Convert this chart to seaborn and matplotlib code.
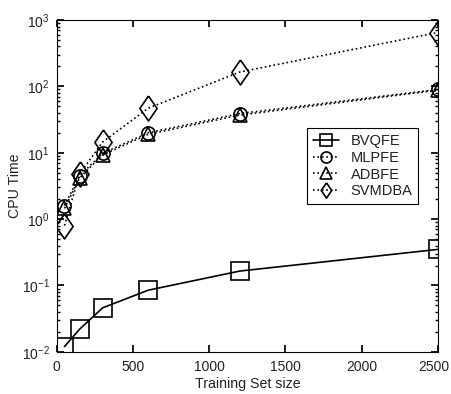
import matplotlib
matplotlib.use("Agg")
import matplotlib.pyplot as plt
from matplotlib.lines import Line2D
from matplotlib.transforms import ScaledTranslation
import seaborn as sns
import numpy as np
import pandas as pd

sizes = [50, 150, 300, 600, 1200, 2500]
bvqfe = [0.012, 0.022, 0.046, 0.085, 0.165, 0.35]
mlpfe = [1.6, 4.5, 9.8, 20, 39, 90]
adbfe = [1.45, 4.2, 9.3, 19, 37, 88]
svmdba = [0.8, 4.8, 14.5, 47, 165, 650]
series_names = ["BVQFE", "MLPFE", "ADBFE", "SVMDBA"]

sns.set_theme(style="ticks")
plt.rcParams['font.family'] = ['Liberation Sans', 'DejaVu Sans']
plt.rcParams['mathtext.fontset'] = 'custom'
plt.rcParams['mathtext.rm'] = 'Liberation Sans'
plt.rcParams['mathtext.it'] = 'Liberation Sans'

fig = plt.figure(figsize=(4.51, 3.94), dpi=100)
ax = fig.add_axes([0.126, 0.107, 0.845, 0.842])

diamond = [(0, 1.45), (1, 0), (0, -1.45), (-1, 0), (0, 1.45)]
styles = {
    "BVQFE": dict(marker="s", linestyle="-", ms=13, lms=8),
    "MLPFE": dict(marker="o", linestyle=":", ms=9.5, lms=8),
    "ADBFE": dict(marker="^", linestyle=":", ms=10, lms=8.5),
    "SVMDBA": dict(marker=diamond, linestyle=":", ms=18, lms=11),
}
vals = {"BVQFE": bvqfe, "MLPFE": mlpfe, "ADBFE": adbfe, "SVMDBA": svmdba}
for name in series_names:
    df = pd.DataFrame({"x": sizes, "y": vals[name]})
    st = styles[name]
    sns.lineplot(data=df, x="x", y="y", ax=ax, color="black", legend=False,
                 marker=st["marker"], linestyle=st["linestyle"],
                 markersize=st["ms"], markerfacecolor="none",
                 markeredgecolor="black", markeredgewidth=1.2, linewidth=1.2)

ax.set_yscale("log")
ax.set_xlim(0, 2500)
ax.set_ylim(1e-2, 1e3)
ax.set_xticks([0, 500, 1000, 1500, 2000, 2500])
ax.set_xlabel("Training Set size", fontsize=10.2, labelpad=2, color="#222222")
ax.set_ylabel("CPU Time", fontsize=10.2, labelpad=0, color="#222222")
ax.tick_params(axis="both", which="both", direction="in", top=True, right=True,
               labelsize=10, colors="black", labelcolor="#222222")
ax.tick_params(which="major", length=5, pad=6)
ax.tick_params(axis="y", which="major", pad=5)
ax.tick_params(which="minor", length=2.5)
for s in ax.spines.values():
    s.set_color("black")
    s.set_linewidth(0.8)

last = ax.get_xticklabels()[-1]
last.set_transform(last.get_transform() + ScaledTranslation(-3 / 72, 0, fig.dpi_scale_trans))

handles = [Line2D([], [], color="black", marker=styles[n]["marker"],
                  linestyle=styles[n]["linestyle"], markersize=styles[n]["lms"],
                  markerfacecolor="none", markeredgecolor="black",
                  markeredgewidth=1.2, linewidth=1.2) for n in series_names]
leg = ax.legend(handles, series_names, loc="upper left",
                bbox_to_anchor=(0.656, 0.675), borderaxespad=0, fontsize=10.5,
                frameon=True, fancybox=False, edgecolor="black", framealpha=1,
                handlelength=1.8, handletextpad=0.8, labelspacing=0.2,
                borderpad=0.4)
leg.get_frame().set_linewidth(0.8)
for t in leg.get_texts():
    t.set_color("#222222")

fig.savefig("out.png", dpi=100)
